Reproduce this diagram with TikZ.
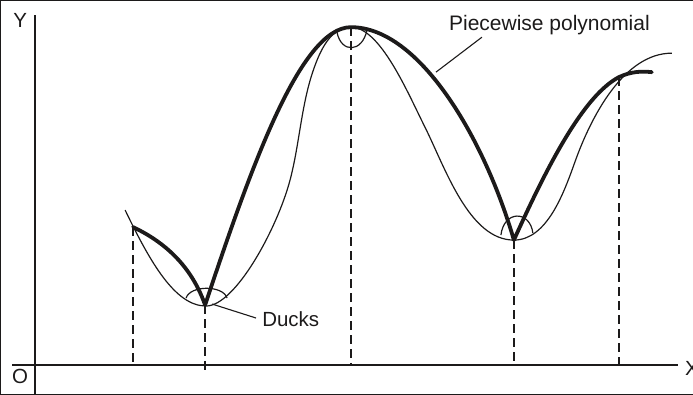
\documentclass[tikz,border=0pt]{standalone}
\usepackage{fontspec}
\setmainfont{Liberation Sans}
\definecolor{ink}{HTML}{1C1A1A}
\begin{document}
\begin{tikzpicture}[x=1pt,y=-1pt,
  every path/.style={draw=ink},
  axis/.style={line width=1.4pt},
  thincurve/.style={line width=1.2pt, line join=round},
  thickcurve/.style={line width=3.8pt, line cap=round, line join=round},
  knotline/.style={line width=1.8pt, dash pattern=on 9pt off 5pt},
  leader/.style={line width=1.1pt},
  lbl/.style={font=\fontsize{20.5}{24}\selectfont, inner sep=0pt, text=ink}]
\useasboundingbox (0,0) rectangle (693,394);
% axes
\coordinate (ytop) at (35,15);
\coordinate (ybot) at (35,394);
\coordinate (xl) at (12,365);
\coordinate (xr) at (678,365);
\draw[axis] (ytop) -- (ybot);
\draw[axis] (xl) -- (xr);
\node[lbl] (ylab) at (20,20) {Y};
\node[lbl] (olab) at (20,376) {O};
\node[lbl, anchor=west] (xlab) at (685,368) {X};
% knots
\coordinate (k1) at (133,227);
\coordinate (k2) at (205,305);
\coordinate (k3) at (351,27);
\coordinate (k4) at (514,240);
\coordinate (k5) at (619,77);
\coordinate (kend) at (652,72);
% dashed verticals
\draw[knotline] (k1) -- (133,365);
\draw[knotline] (k2) -- (205,372);
\draw[knotline] (k3) -- (351,365);
\draw[knotline] (k4) -- (514,365);
\draw[knotline] (k5) -- (619,365);
% thin curve
\draw[thincurve] (125,210) .. controls (150,262) and (175,306) .. (206,306)
  .. controls (235,306) and (277,229) .. (290,180)
  .. controls (299.7,143.3) and (301.2,103.8) .. (314,68)
  .. controls (320.7,49.2) and (331,27) .. (351,27)
  .. controls (380,27) and (407.1,91.2) .. (425,127)
  .. controls (445.1,167.2) and (469,240) .. (514,240)
  .. controls (547,240) and (563.9,193.1) .. (575,162)
  .. controls (591.1,116.8) and (624,53) .. (672,53);
% ducks
\draw[thincurve] (186,298) .. controls (190,285) and (223,285) .. (227,298);
\draw[thincurve] (337,32) .. controls (341,53) and (362,53) .. (367,30);
\draw[thincurve] (501,235) .. controls (504,210) and (530,210) .. (533,233);
% thick piecewise polynomial
\draw[thickcurve] (k1) .. controls (160,240) and (190,262) .. (k2)
  .. controls (250,170) and (300,27) .. (k3)
  .. controls (420,27) and (485,140) .. (k4)
  .. controls (550,160) and (585,95) .. (k5)
  .. controls (632,71) and (642,71) .. (kend);
% labels
\node[lbl, font=\fontsize{21}{24}\selectfont, anchor=base west] (pp) at (449,30) {Piecewise polynomial};
\coordinate (ppend) at (436,72);
\draw[leader] (482,37) -- (ppend);
\node[lbl, anchor=base west] (ducks) at (262,326) {Ducks};
\coordinate (duckend) at (212,304);
\draw[leader] (256,318) -- (duckend);
\end{tikzpicture}
\end{document}
